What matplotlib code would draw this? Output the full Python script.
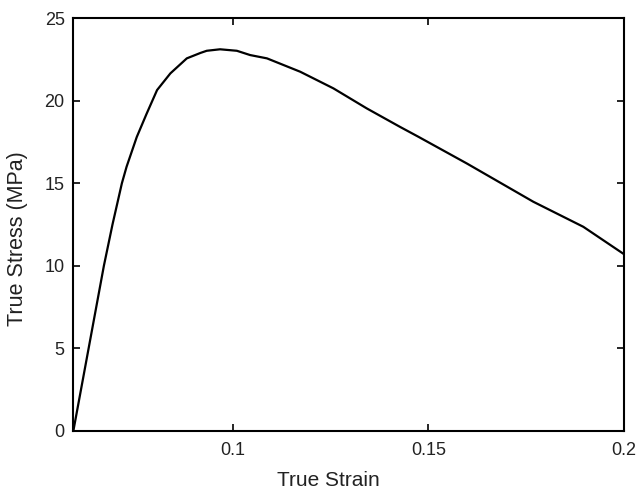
import matplotlib
matplotlib.use('Agg')
import matplotlib.pyplot as plt

plt.rcParams['font.family'] = ['Liberation Sans', 'DejaVu Sans']

# values
strain = [0.0592, 0.0631, 0.0670, 0.0692, 0.0716, 0.0728, 0.0754, 0.0779,
          0.0806, 0.0840, 0.0882, 0.0917, 0.0933, 0.0967, 0.1010, 0.1044, 0.1087,
          0.1172, 0.1257, 0.1342, 0.1427, 0.1474, 0.1598, 0.1768, 0.1896, 0.2000]
stress = [0.0, 5.0, 10.0, 12.5, 15.0, 16.0, 17.8, 19.2,
          20.65, 21.66, 22.57, 22.9, 23.03, 23.12, 23.03, 22.77, 22.57,
          21.76, 20.75, 19.54, 18.42, 17.82, 16.2, 13.88, 12.36, 10.7]

xticks = [0.1, 0.15, 0.2]
xticklabels = ['0.1', '0.15', '0.2']
yticks = [0, 5, 10, 15, 20, 25]

fig = plt.figure(figsize=(6.37, 4.9), dpi=100)
ax = fig.add_axes([0.1146, 0.121, 0.865, 0.8417])
ax.plot(strain, stress, color='black', lw=1.6)

ax.set_xlim(0.0591, 0.2)
ax.set_ylim(0, 25)
ax.set_xticks(xticks)
ax.set_xticklabels(xticklabels)
ax.set_yticks(yticks)
ax.tick_params(direction='in', length=5, width=1.2, top=True, right=True,
               labelsize=13, colors='black', labelcolor='#222222')
ax.tick_params(axis='x', pad=8)
ax.tick_params(axis='y', pad=6)
for s in ax.spines.values():
    s.set_linewidth(1.5)

ax.set_xlabel('True Strain', fontsize=15, color='#222222')
ax.set_ylabel('True Stress (MPa)', fontsize=15.5, color='#222222')
ax.xaxis.set_label_coords(0.463, -0.097)
ax.yaxis.set_label_coords(-0.082, 0.465)

fig.savefig('out.png', dpi=100)
